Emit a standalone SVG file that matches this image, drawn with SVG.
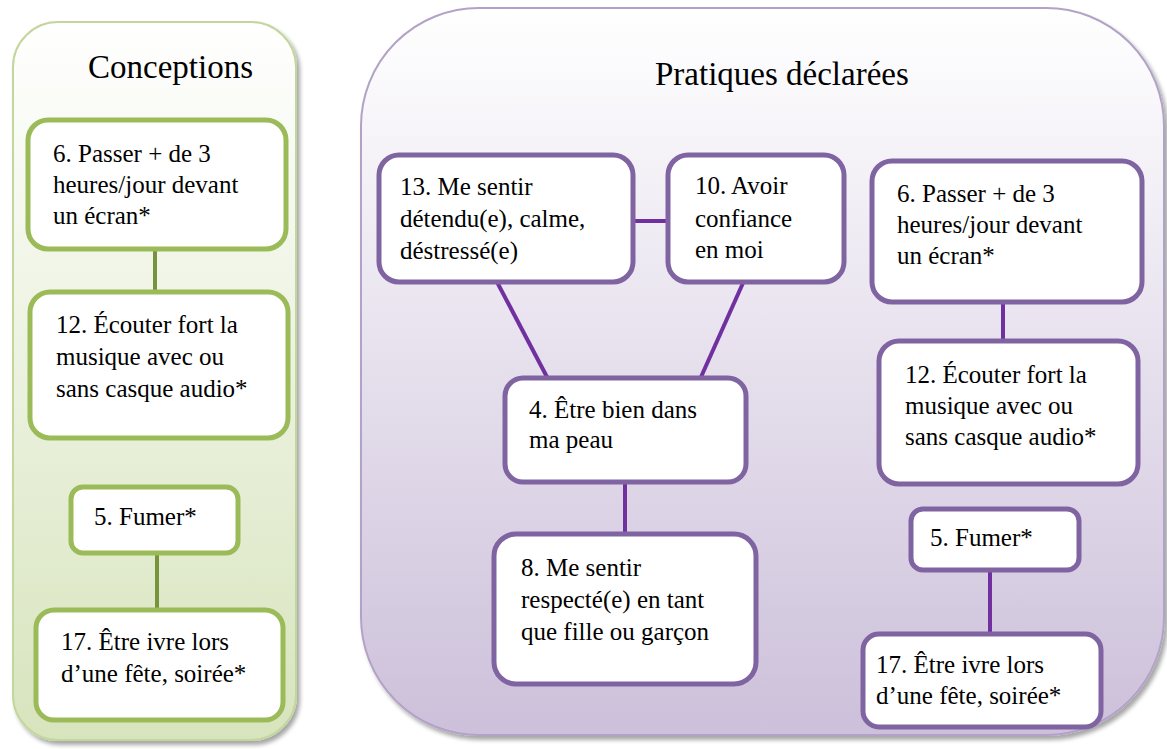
<svg xmlns="http://www.w3.org/2000/svg" width="1167" height="749" viewBox="0 0 1167 749">
<defs>
<linearGradient id="gG" x1="0" y1="0" x2="0" y2="1">
<stop offset="0" stop-color="#ffffff"/>
<stop offset="1" stop-color="#d7e4bd"/>
</linearGradient>
<linearGradient id="gP" x1="0" y1="0" x2="0" y2="1">
<stop offset="0" stop-color="#ffffff"/>
<stop offset="1" stop-color="#ccc0da"/>
</linearGradient>
<filter id="sh" x="-5%" y="-5%" width="110%" height="110%">
<feGaussianBlur in="SourceAlpha" stdDeviation="2"/>
<feOffset dx="3" dy="4"/>
<feComponentTransfer><feFuncA type="linear" slope="0.35"/></feComponentTransfer>
<feMerge><feMergeNode/><feMergeNode in="SourceGraphic"/></feMerge>
</filter>
</defs>
<style>
.t{font-family:'Liberation Serif','Times New Roman',Times,serif;font-size:25px;fill:#000;}
.h{font-family:'Liberation Serif','Times New Roman',Times,serif;font-size:33px;fill:#000;}
.gb{fill:#fff;stroke:#9bbb59;stroke-width:5;}
.pb{fill:#fff;stroke:#8064a2;stroke-width:5;}
.gc{stroke:#77933c;stroke-width:4;fill:none;}
.pc{stroke:#7030a0;stroke-width:4;fill:none;}
</style>
<rect width="1167" height="749" fill="#ffffff"/>
<g id="conceptions">
<rect x="13" y="22" width="283" height="718" rx="45" ry="45" fill="url(#gG)" stroke="#c3d69b" stroke-width="2" filter="url(#sh)"/>
<text class="h" x="88" y="78">Conceptions</text>
</g>
<g id="pratiques">
<rect x="361" y="8" width="803" height="727" rx="118" ry="118" fill="url(#gP)" stroke="#b3a2c7" stroke-width="2" filter="url(#sh)"/>
<text class="h" x="655" y="85">Pratiques déclarées</text>
</g>
<g id="connectors">
<line class="gc" x1="155" y1="250" x2="155" y2="292"/>
<line class="gc" x1="157" y1="553" x2="157" y2="609"/>
<line class="pc" x1="633" y1="221" x2="667" y2="221"/>
<line class="pc" x1="497" y1="282" x2="547" y2="377"/>
<line class="pc" x1="743" y1="283" x2="701" y2="377"/>
<line class="pc" x1="625" y1="482" x2="625" y2="533"/>
<line class="pc" x1="1003" y1="303" x2="1003" y2="340"/>
<line class="pc" x1="990" y1="570" x2="990" y2="633"/>
</g>
<g id="c6">
<rect class="gb" x="28" y="120" width="258" height="129" rx="20"/>
<text class="t" x="53" y="162">6. Passer + de 3</text>
<text class="t" x="53" y="193">heures/jour devant</text>
<text class="t" x="53" y="224">un écran*</text>
</g>
<g id="c12">
<rect class="gb" x="30" y="292" width="258" height="146" rx="20"/>
<text class="t" x="56" y="333">12. Écouter fort la</text>
<text class="t" x="56" y="365">musique avec ou</text>
<text class="t" x="56" y="397">sans casque audio*</text>
</g>
<g id="c5">
<rect class="gb" x="71" y="487" width="167" height="66" rx="12"/>
<text class="t" x="94" y="525">5. Fumer*</text>
</g>
<g id="c17">
<rect class="gb" x="36" y="610" width="247" height="110" rx="18"/>
<text class="t" x="61" y="650">17. Être ivre lors</text>
<text class="t" x="61" y="682">d’une fête, soirée*</text>
</g>
<g id="p13">
<rect class="pb" x="379" y="155" width="254" height="127" rx="20"/>
<text class="t" x="400" y="195">13. Me sentir</text>
<text class="t" x="400" y="227">détendu(e), calme,</text>
<text class="t" x="400" y="259">déstressé(e)</text>
</g>
<g id="p10">
<rect class="pb" x="668" y="155" width="176" height="127" rx="20"/>
<text class="t" x="695" y="194">10. Avoir</text>
<text class="t" x="695" y="227">confiance</text>
<text class="t" x="695" y="258">en moi</text>
</g>
<g id="p4">
<rect class="pb" x="505" y="378" width="241" height="104" rx="18"/>
<text class="t" x="529" y="418">4. Être bien dans</text>
<text class="t" x="529" y="448">ma peau</text>
</g>
<g id="p8">
<rect class="pb" x="494" y="534" width="262" height="150" rx="22"/>
<text class="t" x="521" y="576">8. Me sentir</text>
<text class="t" x="521" y="608">respecté(e) en tant</text>
<text class="t" x="521" y="640">que fille ou garçon</text>
</g>
<g id="p6">
<rect class="pb" x="872" y="161" width="270" height="141" rx="20"/>
<text class="t" x="897" y="202">6. Passer + de 3</text>
<text class="t" x="897" y="233">heures/jour devant</text>
<text class="t" x="897" y="264">un écran*</text>
</g>
<g id="p12">
<rect class="pb" x="879" y="341" width="259" height="143" rx="20"/>
<text class="t" x="905" y="383">12. Écouter fort la</text>
<text class="t" x="905" y="414">musique avec ou</text>
<text class="t" x="905" y="445">sans casque audio*</text>
</g>
<g id="p5">
<rect class="pb" x="911" y="509" width="168" height="61" rx="12"/>
<text class="t" x="930" y="546">5. Fumer*</text>
</g>
<g id="p17">
<rect class="pb" x="863" y="634" width="238" height="93" rx="16"/>
<text class="t" x="876" y="673">17. Être ivre lors</text>
<text class="t" x="876" y="704">d’une fête, soirée*</text>
</g>
</svg>
